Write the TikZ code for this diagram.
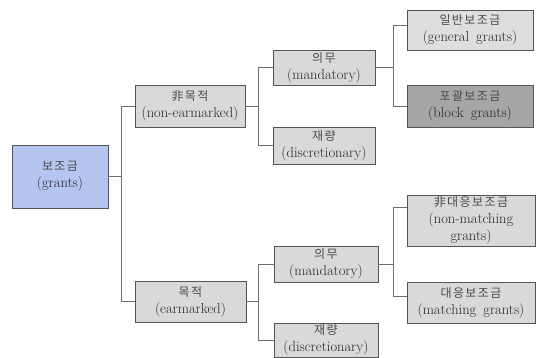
\documentclass[tikz,border=0pt]{standalone}
\usepackage{fontspec}
\setmainfont{Latin Modern Roman}[WordSpace={1.6,1,1}]
\newfontfamily\kofont{Noto Sans CJK KR}[LetterSpace=12]
\definecolor{rootfill}{HTML}{B4C6F0}
\definecolor{boxfill}{HTML}{D9D9D9}
\definecolor{lightfill}{HTML}{DEDEDE}
\definecolor{darkfill}{HTML}{A6A6A6}
\definecolor{edgecol}{HTML}{555555}
\definecolor{linkcol}{HTML}{6E6E6E}
\definecolor{txtcol}{HTML}{262626}
\definecolor{kocol}{HTML}{4A4A4A}
\newcommand{\lbl}[2]{{\kofont\color{kocol}\fontsize{12}{16}\selectfont #1}\\#2}
\tikzset{
  gbox/.style={draw=edgecol, line width=0.9pt, fill=boxfill, rectangle,
    inner sep=0pt, align=center, text=txtcol,
    font=\fontsize{14.5}{17}\selectfont},
  link/.style={draw=linkcol, line width=0.9pt}
}
\begin{document}
\begin{tikzpicture}[x=1pt,y=-1pt]
\useasboundingbox (0,0) rectangle (536,358);
% boxes
\node[gbox, fill=rootfill, minimum width=96pt, minimum height=63pt] (root) at (60,176.5) {\lbl{보조금}{(grants)}};
\node[gbox, minimum width=110pt, minimum height=42pt] (nonearm) at (190,106) {\lbl{非목적}{(non-earmarked)}};
\node[gbox, minimum width=111pt, minimum height=41pt] (earm) at (190.5,301.5) {\lbl{목적}{(earmarked)}};
\node[gbox, minimum width=102pt, minimum height=35pt] (mandA) at (324,67.5) {\lbl{의무}{(mandatory)}};
\node[gbox, minimum width=102pt, minimum height=37pt] (discA) at (324,145.5) {\lbl{재량}{(discretionary)}};
\node[gbox, minimum width=104pt, minimum height=36pt] (mandB) at (326,264) {\lbl{의무}{(mandatory)}};
\node[gbox, minimum width=104pt, minimum height=34pt] (discB) at (326,340) {\lbl{재량}{(discretionary)}};
\node[gbox, fill=lightfill, minimum width=126pt, minimum height=40pt] (general) at (470,30) {\lbl{일반보조금}{(general grants)}};
\node[gbox, fill=darkfill, minimum width=126pt, minimum height=42pt] (block) at (470,106) {\lbl{포괄보조금}{(block grants)}};
\node[gbox, minimum width=128pt, minimum height=51pt] (nonmatch) at (471,220.5) {\lbl{非대응보조금}{(non-matching\\grants)}};
\node[gbox, minimum width=128pt, minimum height=41pt] (match) at (471,302.5) {\lbl{대응보조금}{(matching grants)}};
% connectors
\draw[link] (root.east) -- ++(13,0) coordinate (j0);
\draw[link] (j0) |- (nonearm.west);
\draw[link] (j0) |- (earm.west);
\draw[link] (nonearm.east) -- ++(13,0) coordinate (j1);
\draw[link] (j1) |- (mandA.west);
\draw[link] (j1) |- (discA.west);
\draw[link] (earm.east) -- ++(12,0) coordinate (j2);
\draw[link] (j2) |- (mandB.west);
\draw[link] (j2) |- (discB.west);
\draw[link] (mandA.east) -- ++(18,0) coordinate (j3);
\draw[link] (j3) |- ([yshift=5pt]general.west);
\draw[link] (j3) |- (block.west);
\draw[link] (mandB.east) -- ++(15,0) coordinate (j4);
\draw[link] (j4) |- ([yshift=13pt]nonmatch.west);
\draw[link] (j4) |- ([yshift=6pt]match.west);
\end{tikzpicture}
\end{document}
